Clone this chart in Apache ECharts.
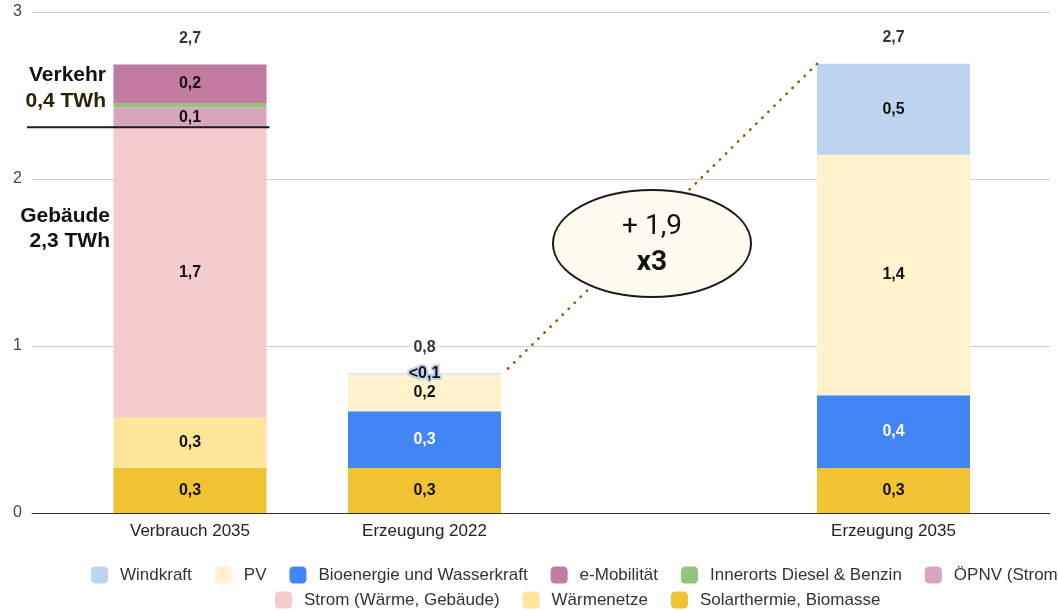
<!DOCTYPE html>
<html>
<head>
<meta charset="utf-8">
<script src="https://cdn.jsdelivr.net/npm/echarts@6/dist/echarts.min.js"></script>
<style>
  html, body { margin: 0; padding: 0; background: #fff; }
  #chart { width: 1058px; height: 610px; }
</style>
</head>
<body>
<div id="chart"></div>
<script>
// Energiebilanz in TWh: Verbrauch 2035 gegenüber Erzeugung 2022 / 2035
const categories = ['Verbrauch 2035', 'Erzeugung 2022', '', 'Erzeugung 2035'];
const yTicks = [0, 1, 2, 3];

const solarthermie  = [0.27, 0.27, null, 0.27];
const waermenetze   = [0.30, null, null, null];
const stromGebaeude = [1.74, null, null, null];
const oepnv         = [0.12, null, null, null];
const innerorts     = [0.025, null, null, null];
const eMobilitaet   = [0.23, null, null, null];
const bioenergie    = [null, 0.34, null, 0.435];
const pv            = [null, 0.22, null, 1.44];
const windkraft     = [null, 0.005, null, 0.545];

const fmt = v => (Math.round(v * 10 + 1e-9) / 10).toFixed(1).replace('.', ',');

// stacking order, bottom to top
const stackDefs = [
  { name: 'Solarthermie, Biomasse',     data: solarthermie,  color: '#F1C232', text: '#111', label: true },
  { name: 'Wärmenetze',                 data: waermenetze,   color: '#FFE599', text: '#111', label: true },
  { name: 'Strom (Wärme, Gebäude)',     data: stromGebaeude, color: '#F4CCCC', text: '#111', label: true },
  { name: 'ÖPNV (Strom)',               data: oepnv,         color: '#D5A6BD', text: '#111', label: true },
  { name: 'Innerorts Diesel & Benzin',  data: innerorts,     color: '#93C47D', text: '#111', label: false },
  { name: 'e-Mobilität',                data: eMobilitaet,   color: '#C27BA0', text: '#111', label: true },
  { name: 'Bioenergie und Wasserkraft', data: bioenergie,    color: '#4285F4', text: '#fff', label: true },
  { name: 'PV',                         data: pv,            color: '#FFF2CC', text: '#111', label: true },
  { name: 'Windkraft',                  data: windkraft,     color: '#BDD4EE', text: '#111', label: true, halo: true }
];

const totals = categories.map((c, i) =>
  c === '' ? null : stackDefs.reduce((a, s) => a + (s.data[i] || 0), 0));

const gebaeude = solarthermie[0] + waermenetze[0] + stromGebaeude[0];
const verkehr = oepnv[0] + innerorts[0] + eMobilitaet[0];

const legendRow1 = ['Windkraft', 'PV', 'Bioenergie und Wasserkraft', 'e-Mobilität', 'Innerorts Diesel & Benzin', 'ÖPNV (Strom)'];
const legendRow2 = ['Strom (Wärme, Gebäude)', 'Wärmenetze', 'Solarthermie, Biomasse'];

const BAR_W = 153;
const FONT = '"Liberation Sans", Arial, sans-serif';

const barSeries = stackDefs.map(s => ({
  name: s.name,
  type: 'bar',
  stack: 'total',
  xAxisIndex: 1,
  yAxisIndex: 1,
  barWidth: BAR_W,
  data: s.data,
  itemStyle: { color: s.color },
  emphasis: { disabled: true },
  label: {
    show: s.label,
    position: 'inside',
    fontFamily: FONT,
    fontWeight: 'bold',
    fontSize: 16,
    color: s.text,
    textBorderColor: s.halo ? '#BDD4EE' : 'transparent',
    textBorderWidth: s.halo ? 4 : 0,
    formatter: p => (p.value < 0.05 ? '<0,1' : fmt(p.value))
  }
}));

const totalSeries = {
  name: 'Summe',
  type: 'scatter',
  xAxisIndex: 1,
  yAxisIndex: 1,
  symbolSize: 0,
  data: totals,
  z: 10,
  label: {
    show: true,
    position: 'top',
    distance: 17,
    fontFamily: FONT,
    fontWeight: 'bold',
    fontSize: 16,
    color: '#000',
    backgroundColor: '#fff',
    padding: [1, 4],
    formatter: p => fmt(p.value)
  }
};

const legendCommon = {
  orient: 'horizontal',
  width: 1600,
  padding: 0,
  itemWidth: 17,
  itemHeight: 17,
  itemGap: 23,
  icon: 'roundRect',
  selectedMode: false,
  textStyle: { fontFamily: FONT, fontSize: 17, color: '#333', padding: [0, 0, 0, 7] }
};

const chart = echarts.init(document.getElementById('chart'), null, { renderer: 'canvas' });

chart.setOption({
  animation: false,
  backgroundColor: '#fff',
  grid: [
    { left: 32, right: 8, top: 12, bottom: 97 },
    { left: 72.75, right: 47.25, top: 12, bottom: 97 }
  ],
  xAxis: [
    {
      gridIndex: 0, type: 'value', min: 0, max: 1,
      axisLine: { show: true, lineStyle: { color: '#333', width: 1 } },
      axisTick: { show: false }, axisLabel: { show: false }, splitLine: { show: false }
    },
    {
      gridIndex: 1, type: 'category', data: categories,
      axisLine: { show: false }, axisTick: { show: false },
      axisLabel: { fontFamily: FONT, fontSize: 17, color: '#222', margin: 10, interval: 0 }
    }
  ],
  yAxis: [
    {
      gridIndex: 0, type: 'value', min: yTicks[0], max: yTicks[yTicks.length - 1], interval: 1,
      axisLine: { show: false }, axisTick: { show: false },
      axisLabel: { fontFamily: FONT, fontSize: 16, color: '#444', margin: 10 },
      splitLine: { lineStyle: { color: '#cccccc', width: 1 } }
    },
    {
      gridIndex: 1, type: 'value', min: yTicks[0], max: yTicks[yTicks.length - 1],
      show: false
    }
  ],
  legend: [
    Object.assign({ data: legendRow1, left: 91, top: 566.5 }, legendCommon),
    Object.assign({ data: legendRow2, left: 275, top: 591.5 }, legendCommon)
  ],
  series: barSeries.concat([totalSeries])
});

// Annotations placed from the axis scales
const px = (cat, val) => chart.convertToPixel({ xAxisIndex: 1, yAxisIndex: 1 }, [cat, val]);
const p2022 = px(categories[1], totals[1]);
const p2035 = px(categories[3], totals[3]);
const pSplit = px(categories[0], gebaeude);
const diff = totals[3] - totals[1];
const ratio = Math.round(totals[3] / totals[1]);

chart.setOption({
  graphic: [
    {
      // dotted connector, drawn from the 2035 bar corner down to the 2022 bar corner
      type: 'line', z: 5,
      shape: { x1: p2035[0] - BAR_W / 2, y1: p2035[1], x2: p2022[0] + BAR_W / 2 + 2, y2: p2022[1] },
      style: { stroke: '#7F6000', lineWidth: 2.5, lineDash: [0.5, 8], lineCap: 'round' }
    },
    {
      type: 'ellipse', z: 6,
      shape: { cx: 652, cy: 243.5, rx: 99, ry: 53.5 },
      style: { fill: '#FFFBEE', stroke: '#1a1a1a', lineWidth: 2 }
    },
    {
      type: 'text', z: 7, x: 652, y: 227,
      style: { text: '+ ' + fmt(diff), font: '400 28px Roboto, sans-serif', fill: '#111', align: 'center', verticalAlign: 'middle' }
    },
    {
      type: 'text', z: 7, x: 652, y: 263,
      style: { text: 'x' + ratio, font: 'bold 28px Roboto, sans-serif', fill: '#111', align: 'center', verticalAlign: 'middle' }
    },
    {
      type: 'line', z: 8,
      shape: { x1: 27, y1: pSplit[1], x2: pSplit[0] + BAR_W / 2 + 3, y2: pSplit[1] },
      style: { stroke: '#1c1c1c', lineWidth: 2 }
    },
    {
      type: 'text', z: 7, x: 106, y: 75,
      style: { text: 'Verkehr', font: 'bold 21px "Liberation Sans", Arial, sans-serif', fill: '#111', align: 'right', verticalAlign: 'middle' }
    },
    {
      type: 'text', z: 7, x: 106, y: 101,
      style: { text: fmt(verkehr) + ' TWh', font: 'bold 21px "Liberation Sans", Arial, sans-serif', fill: '#2d2406', align: 'right', verticalAlign: 'middle' }
    },
    {
      type: 'text', z: 7, x: 110, y: 216,
      style: { text: 'Gebäude', font: 'bold 21px "Liberation Sans", Arial, sans-serif', fill: '#111', align: 'right', verticalAlign: 'middle' }
    },
    {
      type: 'text', z: 7, x: 110, y: 241,
      style: { text: fmt(gebaeude) + ' TWh', font: 'bold 21px "Liberation Sans", Arial, sans-serif', fill: '#111', align: 'right', verticalAlign: 'middle' }
    }
  ]
});
</script>
</body>
</html>
